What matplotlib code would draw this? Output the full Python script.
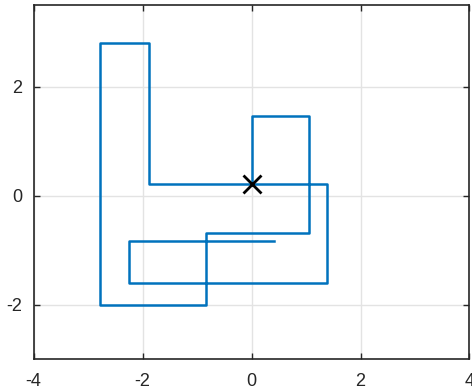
import matplotlib
matplotlib.use("Agg")
import matplotlib.pyplot as plt

# path vertices (random-walk style route)
path_x = [0.42, -2.25, -2.25, 1.38, 1.38, -1.875, -1.875, -2.78, -2.78,
          -0.835, -0.835, 1.06, 1.06, 0.0, 0.0]
path_y = [-0.835, -0.835, -1.61, -1.61, 0.22, 0.22, 2.79, 2.79, -2.01,
          -2.01, -0.68, -0.68, 1.46, 1.46, 0.22]
end_x = [0.0]
end_y = [0.22]

x_ticks = [-4, -2, 0, 2, 4]
y_ticks = [-2, 0, 2]

plt.rcParams["font.family"] = ["Liberation Sans", "DejaVu Sans"]

fig = plt.figure(figsize=(4.72, 3.89), dpi=100)
ax = fig.add_axes([0.071, 0.0763, 0.9237, 0.9116])

ax.plot(path_x, path_y, color="#0072BD", linewidth=1.8, zorder=3)
ax.plot(end_x, end_y, marker="x", color="black", markersize=13,
        markeredgewidth=2, linestyle="none", zorder=4)

ax.set_xlim(-4, 4)
ax.set_ylim(-3, 3.5)
ax.set_xticks(x_ticks)
ax.set_yticks(y_ticks)
ax.set_xticklabels([str(t) for t in x_ticks])
ax.set_yticklabels([str(t) for t in y_ticks])

ax.grid(True, color="#e3e3e3", linewidth=1)
ax.set_axisbelow(True)
ax.tick_params(direction="in", length=4, width=1, colors="#262626",
               labelsize=13, top=True, right=True, pad=10)
ax.tick_params(axis="y", pad=8)
for s in ax.spines.values():
    s.set_color("#262626")
    s.set_linewidth(1.2)

fig.savefig("out.png", dpi=100)
